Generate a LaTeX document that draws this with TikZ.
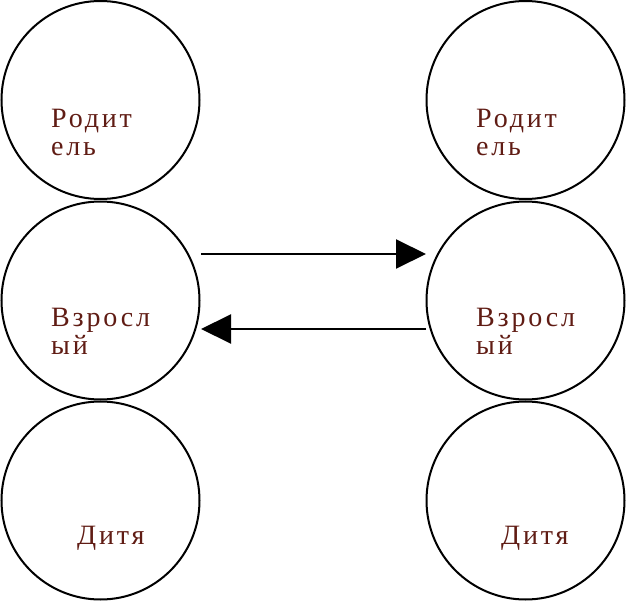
\documentclass[tikz,border=0pt]{standalone}
\usepackage{fontspec}
\setmainfont{Liberation Serif}
\newfontfamily\labelfont[LetterSpace=10]{Liberation Serif}
\usetikzlibrary{arrows.meta}
\definecolor{txtred}{RGB}{96,28,20}
\tikzset{
  role/.style={circle, draw=black, line width=2pt, minimum size=198pt, inner sep=0pt},
  lbl/.style={anchor=base west, inner sep=0pt, text=txtred, align=left,
              font=\labelfont\fontsize{28}{28}\selectfont},
  link/.style={line width=2pt, -{Triangle[length=30pt,width=29pt]}}
}
\begin{document}
\begin{tikzpicture}[x=1pt,y=-1pt]
\useasboundingbox (0,0) rectangle (627,602);
% left column
\node[role] (LP) at (100.5,100) {};
\node[role] (LA) at (100.5,300.5) {};
\node[role] (LC) at (100.5,500.5) {};
% right column
\node[role] (RP) at (525.5,100) {};
\node[role] (RA) at (525.5,300.5) {};
\node[role] (RC) at (525.5,500.5) {};
% labels (anchor at baseline of last line)
\node[lbl] (tLP) at (51,155) {Родит\\ель};
\node[lbl] (tLA) at (51,354) {Взросл\\ый};
\node[lbl] (tLC) at (77,544) {Дитя};
\node[lbl] (tRP) at (476,155) {Родит\\ель};
\node[lbl] (tRA) at (476,354) {Взросл\\ый};
\node[lbl] (tRC) at (501,544) {Дитя};
% arrows
\coordinate (a1) at (201,254);
\coordinate (b1) at (426,254);
\coordinate (a2) at (426,329);
\coordinate (b2) at (201,329);
\draw[link] (a1) -- (b1);
\draw[link] (a2) -- (b2);
\end{tikzpicture}
\end{document}
